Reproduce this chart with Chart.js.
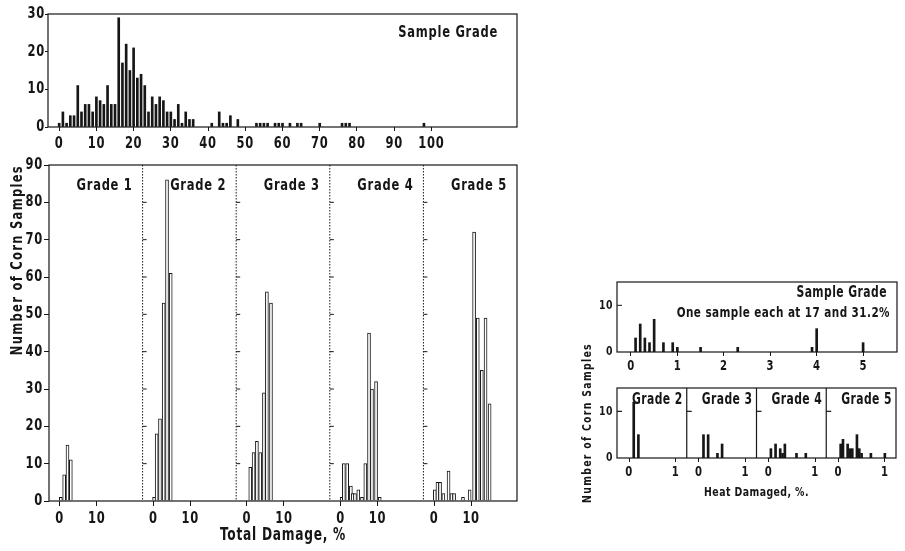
<!DOCTYPE html>
<html>
<head>
<meta charset="utf-8">
<script src="https://cdn.jsdelivr.net/npm/chart.js@4.4.1/dist/chart.umd.min.js"></script>
<style>
  html, body { margin: 0; padding: 0; background: #fff; }
  body { width: 905px; height: 551px; position: relative; overflow: hidden; }
  canvas { position: absolute; display: block; }
</style>
</head>
<body>
<canvas id="cTop"   width="530" height="150" style="left:0;top:0"></canvas>
<canvas id="cMain"  width="530" height="401" style="left:0;top:150px"></canvas>
<canvas id="cHeatS" width="345" height="120" style="left:560px;top:262px"></canvas>
<canvas id="cHeatG" width="345" height="221" style="left:560px;top:330px"></canvas>
<script>
// ---------------- DATA ----------------
// Sample Grade: total damage (%) histogram
const sampleDamagePct = [0,1,2,3,4,5,6,7,8,9,10,11,12,13,14,15,16,17,18,19,20,21,22,23,24,25,26,27,28,29,30,31,32,33,34,35,36,41,43,44,45,46,48,53,54,55,56,58,59,60,62,64,65,70,76,77,78,98];
const sampleCounts    = [1,4,1,3,3,11,4,6,6,4,8,7,6,11,6,6,29,17,22,15,21,13,14,11,4,8,6,8,7,4,4,2,6,1,4,2,2,1,4,1,1,3,2,1,1,1,1,1,1,1,1,1,1,1,1,1,1,1];
const sampleTicks = [0,10,20,30,40,50,60,70,80,90,100];

// Grades 1-5: total damage (%)
const gradeNames = ['Grade 1','Grade 2','Grade 3','Grade 4','Grade 5'];
const grade1Damage = [0.3,1.2,2.1,3.0];
const grade1Counts = [1,7,15,11];
const grade2Damage = [0.2,0.9,1.8,2.8,3.7,4.7];
const grade2Counts = [1,18,22,53,86,61];
const grade3Damage = [0.9,1.8,2.7,3.6,4.6,5.4,6.5];
const grade3Counts = [9,13,16,13,29,56,53];
const grade4Damage = [0.3,0.9,1.8,2.8,3.3,3.9,4.8,5.8,6.7,7.7,8.5,9.6,10.6];
const grade4Counts = [1,10,10,4,2,2,3,1,10,45,30,32,1];
const grade5Damage = [0.2,0.9,1.6,2.5,3.9,4.7,5.4,7.8,9.6,10.8,11.8,12.9,13.9,15.0];
const grade5Counts = [3,5,5,2,8,2,2,1,3,72,49,35,49,26];
const damageTicks = [0,10];

// Heat damaged (%)
const heatSampleDamage = [0.1,0.2,0.3,0.4,0.5,0.7,0.9,1.0,1.5,2.3,3.9,4.0,5.0];
const heatSampleCounts = [3,6,3,2,7,2,2,1,1,1,1,5,2];
const heatSampleTicks = [0,1,2,3,4,5];
const heatGradeNames = ['Grade 2','Grade 3','Grade 4','Grade 5'];
const heat2Damage = [0.1,0.2];
const heat2Counts = [12,5];
const heat3Damage = [0.1,0.2,0.4,0.5];
const heat3Counts = [5,5,1,3];
const heat4Damage = [0.05,0.15,0.25,0.3,0.35,0.6,0.8];
const heat4Counts = [2,3,2,1,3,1,1];
const heat5Damage = [0.05,0.1,0.2,0.25,0.3,0.4,0.45,0.5,0.7,1.0];
const heat5Counts = [3,4,3,2,2,5,2,1,1,1];
const heatTicks = [0,1];

// ---------------- STYLE / LAYOUT ----------------
const INK = '#161616';
const FONT = '"DejaVu Sans", sans-serif';
const SQUEEZE = 0.72;   // horizontal condensing of the lettering
const f = (size) => ({ family: FONT, size: size, weight: 'bold' });
const MAIN = { min: -2.9, width: 25.3, count: 5 };
const HEAT = { min: -0.26, width: 1.5, count: 4 };

Chart.defaults.font.family = FONT;
Chart.defaults.color = INK;

function panelData(xsList, ysList, P) {
  const out = [];
  xsList.forEach((xs, k) => xs.forEach((v, i) => out.push({ x: v + k * P.width, y: ysList[k][i] })));
  return out;
}
function panelLabel(v, P) {
  const k = Math.floor((v - P.min) / P.width);
  return String(Math.round((v - k * P.width) * 10) / 10);
}
function panelTicks(P, ticks) {
  return (s) => {
    s.ticks = [];
    for (let k = 0; k < P.count; k++) ticks.forEach(t => s.ticks.push({ value: k * P.width + t }));
  };
}

const frame = {
  id: 'frame',
  beforeDraw(chart, _a, o) {
    const ctx = chart.ctx;
    ctx.letterSpacing = o.spacing || '0px';
    if (!ctx.__squeezed) {
      const nativeFill = CanvasRenderingContext2D.prototype.fillText;
      ctx.fillText = function (text, x, y, maxWidth) {
        const opts = chart.options.plugins.frame || {};
        const m = this.getTransform();
        this.save();
        if (Math.abs(m.b) > 0.5 && opts.rotatedSpacing) this.letterSpacing = opts.rotatedSpacing;
        this.translate(x, y);
        this.scale(SQUEEZE, 1);
        if (maxWidth === undefined || maxWidth === null) nativeFill.call(this, text, 0, 0);
        else nativeFill.call(this, text, 0, 0, maxWidth / SQUEEZE);
        this.restore();
      };
      ctx.__squeezed = true;
    }
  },
  afterDatasetsDraw(chart, _a, o) {
    const { ctx, chartArea: a, scales } = chart;
    const x = scales.x, y = scales.y;
    const p = o.panels;
    ctx.save();
    ctx.strokeStyle = INK;
    ctx.lineWidth = o.lineWidth || 1.2;
    ctx.setLineDash([]);
    ctx.strokeRect(a.left, a.top, a.right - a.left, a.bottom - a.top);
    const edges = [];
    if (p) { for (let k = 0; k < p.count; k++) edges.push(x.getPixelForValue(p.min + k * p.width)); }
    else edges.push(a.left);
    ctx.lineWidth = o.dividerWidth || 1;
    ctx.setLineDash(o.dividerDash || []);
    for (let k = 1; k < edges.length; k++) {
      ctx.beginPath(); ctx.moveTo(edges[k], a.top); ctx.lineTo(edges[k], a.bottom); ctx.stroke();
    }
    ctx.setLineDash([]);
    (o.innerTicks || []).forEach(v => {
      const py = y.getPixelForValue(v);
      for (let k = (o.innerFrom || 0); k < edges.length; k++) {
        ctx.beginPath(); ctx.moveTo(edges[k], py); ctx.lineTo(edges[k] + (o.innerLen || 4), py); ctx.stroke();
      }
    });
    ctx.fillStyle = INK; ctx.textAlign = 'right'; ctx.textBaseline = 'middle';
    (o.texts || []).forEach(t => {
      const right = (p && t.panel !== undefined) ? x.getPixelForValue(p.min + (t.panel + 1) * p.width) : a.right;
      ctx.font = 'bold ' + t.size + 'px ' + FONT;
      ctx.fillText(t.text, right - t.inset, a.top + t.dy);
    });
    ctx.restore();
  }
};

const common = { responsive: false, animation: false, devicePixelRatio: 1, events: [] };

// ---------- Top: Sample Grade ----------
new Chart(document.getElementById('cTop'), {
  type: 'bar',
  data: { datasets: [{ data: sampleDamagePct.map((v, i) => ({ x: v, y: sampleCounts[i] })),
    backgroundColor: INK, barThickness: 2 }] },
  plugins: [frame],
  options: Object.assign({}, common, {
    layout: { padding: { top: 14, right: 13, left: 0, bottom: 0 } },
    plugins: { legend: { display: false }, tooltip: { enabled: false },
      frame: { spacing: '1px', texts: [{ text: 'Sample Grade', inset: 19, dy: 19, size: 16 }] } },
    scales: {
      x: { type: 'linear', min: -3, max: 123, offset: false,
        afterBuildTicks: (s) => { s.ticks = sampleTicks.map(v => ({ value: v })); },
        afterFit: (s) => { s.height = 23; },
        ticks: { autoSkip: false, maxRotation: 0, padding: 3, color: INK, font: f(16) },
        grid: { drawOnChartArea: false, tickLength: 4, color: INK, offset: false },
        border: { display: false } },
      y: { min: 0, max: 30,
        afterFit: (s) => { s.width = 48; },
        ticks: { stepSize: 10, padding: 0, color: INK, font: f(16) },
        grid: { drawOnChartArea: false, tickLength: 3, color: INK },
        border: { display: false } }
    }
  })
});

// ---------- Main: Grades 1-5 ----------
new Chart(document.getElementById('cMain'), {
  type: 'bar',
  data: { datasets: [{ data: panelData(
      [grade1Damage, grade2Damage, grade3Damage, grade4Damage, grade5Damage],
      [grade1Counts, grade2Counts, grade3Counts, grade4Counts, grade5Counts], MAIN),
    backgroundColor: '#ffffff', borderColor: INK, borderWidth: 1, borderSkipped: 'start', barThickness: 3 }] },
  plugins: [frame],
  options: Object.assign({}, common, {
    layout: { padding: { top: 15, right: 13, left: 0, bottom: 0 } },
    plugins: { legend: { display: false }, tooltip: { enabled: false },
      frame: { spacing: '1px', rotatedSpacing: '1.8px', panels: MAIN, dividerDash: [1.5, 1.5], dividerWidth: 1,
        innerTicks: [10,20,30,40,50,60,70,80], innerFrom: 1, innerLen: 4,
        texts: gradeNames.map((g, k) => ({ text: g, panel: k, inset: 10, dy: 21, size: 16 })) } },
    scales: {
      x: { type: 'linear', min: MAIN.min, max: MAIN.min + MAIN.count * MAIN.width, offset: false,
        afterBuildTicks: panelTicks(MAIN, damageTicks),
        afterFit: (s) => { s.height = 50; },
        ticks: { autoSkip: false, maxRotation: 0, padding: 3, color: INK, font: f(16),
          callback: (v) => panelLabel(v, MAIN) },
        grid: { drawOnChartArea: false, tickLength: 5, color: INK, offset: false },
        border: { display: false },
        title: { display: true, text: 'Total Damage, %', color: INK, font: f(17), padding: { top: 0, bottom: 5 } } },
      y: { min: 0, max: 90,
        afterFit: (s) => { s.width = 49; },
        ticks: { stepSize: 10, padding: 1, color: INK, font: f(16) },
        grid: { drawOnChartArea: false, tickLength: 5, color: INK },
        border: { display: false },
        title: { display: true, text: 'Number of Corn Samples', align: 'end', color: INK, font: f(16), padding: { top: 8, bottom: 0 } } }
    }
  })
});

// ---------- Heat damage: Sample Grade ----------
new Chart(document.getElementById('cHeatS'), {
  type: 'bar',
  data: { datasets: [{ data: heatSampleDamage.map((v, i) => ({ x: v, y: heatSampleCounts[i] })),
    backgroundColor: INK, barThickness: 2 }] },
  plugins: [frame],
  options: Object.assign({}, common, {
    layout: { padding: { top: 20, right: 8, left: 0, bottom: 0 } },
    plugins: { legend: { display: false }, tooltip: { enabled: false },
      frame: { spacing: '0.6px', innerTicks: [10], innerFrom: 0, innerLen: 5,
        texts: [{ text: 'Sample Grade', inset: 10, dy: 11, size: 15 },
                { text: 'One sample each at 17 and 31.2%', inset: 7, dy: 31, size: 14.5 }] } },
    scales: {
      x: { type: 'linear', min: -0.3, max: 5.73, offset: false,
        afterBuildTicks: (s) => { s.ticks = heatSampleTicks.map(v => ({ value: v })); },
        afterFit: (s) => { s.height = 30; },
        ticks: { autoSkip: false, maxRotation: 0, padding: 2, color: INK, font: f(14) },
        grid: { drawOnChartArea: false, tickLength: 4, color: INK, offset: false },
        border: { display: false } },
      y: { min: 0, max: 15,
        afterBuildTicks: (s) => { s.ticks = [{ value: 0 }, { value: 10 }]; },
        afterFit: (s) => { s.width = 57; },
        ticks: { padding: 4, color: INK, font: f(13) },
        grid: { display: false, drawTicks: false },
        border: { display: false } }
    }
  })
});

// ---------- Heat damage: Grades 2-5 ----------
new Chart(document.getElementById('cHeatG'), {
  type: 'bar',
  data: { datasets: [{ data: panelData(
      [heat2Damage, heat3Damage, heat4Damage, heat5Damage],
      [heat2Counts, heat3Counts, heat4Counts, heat5Counts], HEAT),
    backgroundColor: INK, barThickness: 2 }] },
  plugins: [frame],
  options: Object.assign({}, common, {
    layout: { padding: { top: 58, right: 9, left: 0, bottom: 49 } },
    plugins: { legend: { display: false }, tooltip: { enabled: false },
      frame: { spacing: '0.6px', rotatedSpacing: '1.8px', panels: HEAT, dividerWidth: 1.2,
        innerTicks: [10], innerFrom: 0, innerLen: 5,
        texts: heatGradeNames.map((g, k) => ({ text: g, panel: k, inset: 4, dy: 12, size: 15 })) } },
    scales: {
      x: { type: 'linear', min: HEAT.min, max: HEAT.min + HEAT.count * HEAT.width, offset: false,
        afterBuildTicks: panelTicks(HEAT, heatTicks),
        afterFit: (s) => { s.height = 44; },
        ticks: { autoSkip: false, maxRotation: 0, padding: 2, color: INK, font: f(14),
          callback: (v) => panelLabel(v, HEAT) },
        grid: { drawOnChartArea: false, tickLength: 4, color: INK, offset: false },
        border: { display: false },
        title: { display: true, text: 'Heat Damaged, %.', color: INK, font: f(13), padding: { top: 0, bottom: 2 } } },
      y: { min: 0, max: 15,
        afterBuildTicks: (s) => { s.ticks = [{ value: 0 }, { value: 10 }]; },
        afterFit: (s) => { s.width = 57; },
        ticks: { padding: 4, color: INK, font: f(13) },
        grid: { display: false, drawTicks: false },
        border: { display: false },
        title: { display: true, text: 'Number of Corn Samples', color: INK, font: f(13), padding: { top: 20, bottom: 0 } } }
    }
  })
});
</script>
</body>
</html>
